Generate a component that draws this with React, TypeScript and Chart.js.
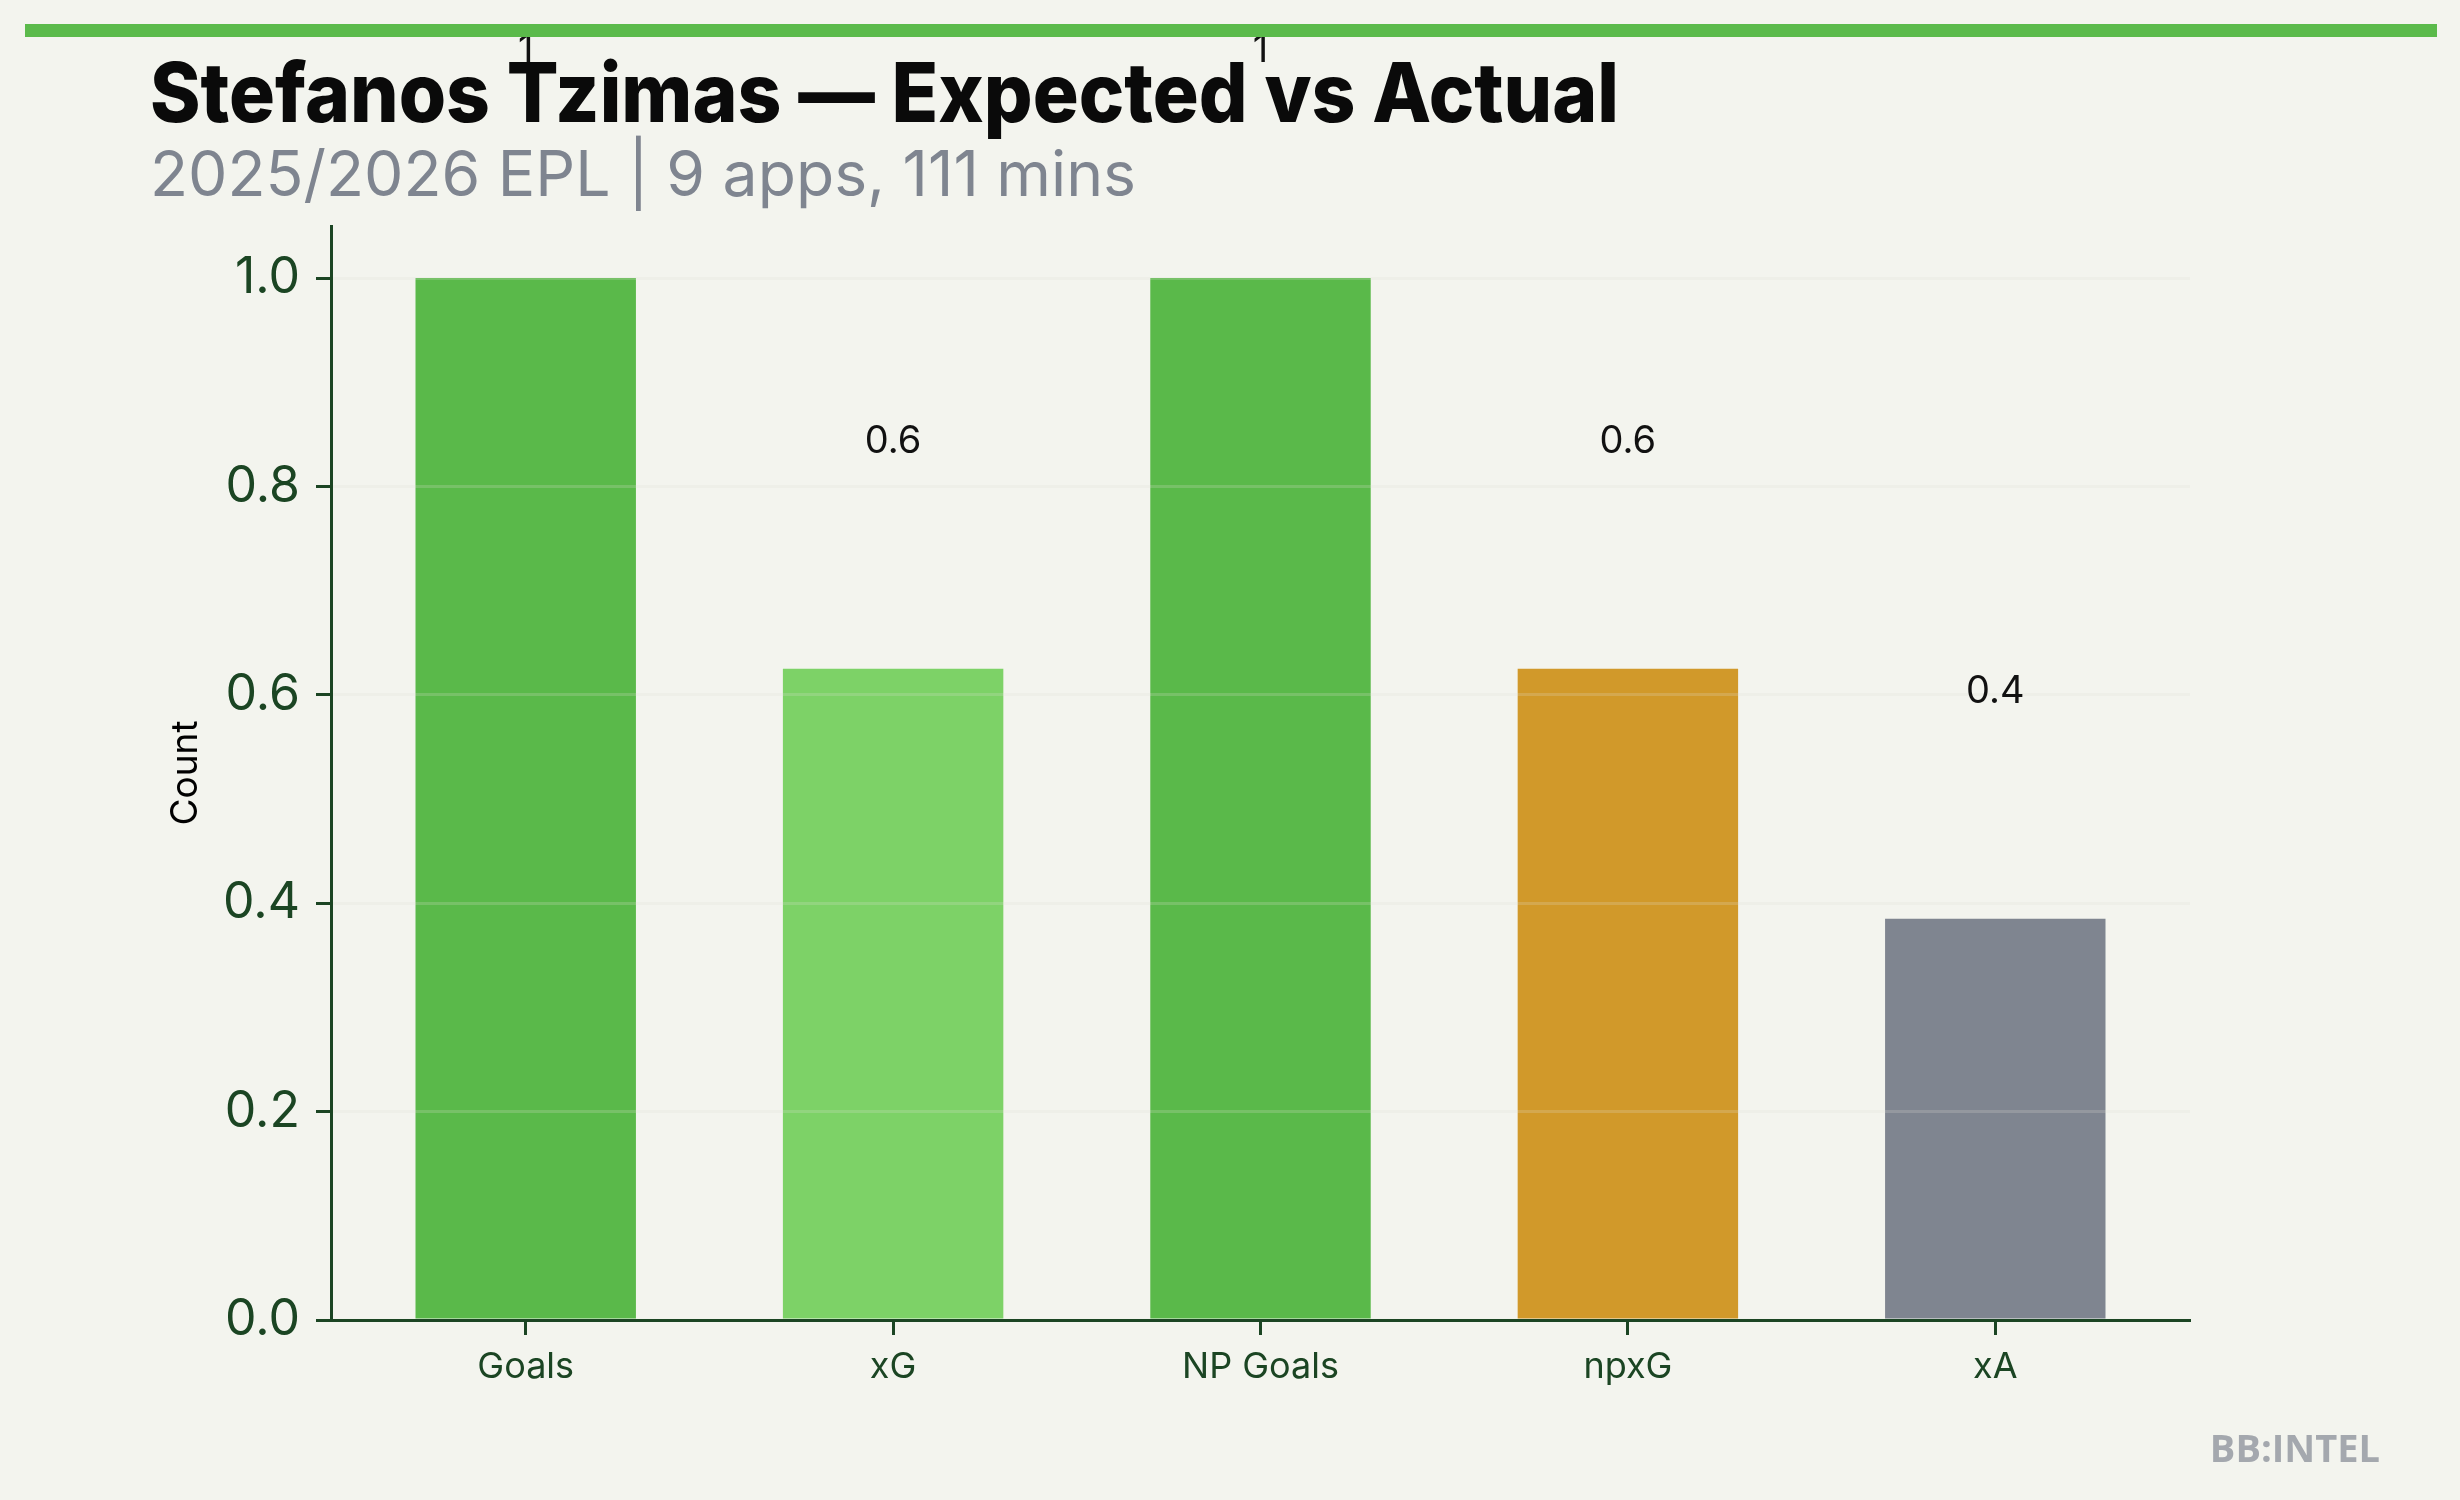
import { useEffect, useRef } from "react";
import { Chart, registerables } from "chart.js";

Chart.register(...registerables);

// ---------- content ----------
const TITLE = "Stefanos Tzimas — Expected vs Actual";
const SUBTITLE = "2025/2026 EPL | 9 apps, 111 mins";
const Y_AXIS_TITLE = "Count";
const WATERMARK = "BB:INTEL";

const categories = ["Goals", "xG", "NP Goals", "npxG", "xA"];
const values = [1, 0.625, 1, 0.625, 0.385];
const yTickValues = [0, 0.2, 0.4, 0.6, 0.8, 1.0];

// ---------- styling ----------
const BG = "#f3f4ee";
const AXIS_COLOR = "#1b4523";
const GRID_COLOR = "rgba(222,224,216,0.22)";
const ACCENT = "#5bba4b";
const barColors = ["#5ab94a", "#7dd267", "#5ab94a", "#d1992a", "#7f8590"];
const FONT = "Inter, 'Noto Sans', sans-serif";

const Y_MIN = 0;
const Y_MAX = 1.05;
const X_MIN = -0.53;
const X_MAX = 4.53;
const LABEL_OFFSET = 0.207; // data units above the bar top

function fmt(v: number): string {
  return Number.isInteger(v) ? String(v) : v.toFixed(1);
}

const decorPlugin = {
  id: "decor",
  afterDraw(chart: any) {
    const ctx = chart.ctx as CanvasRenderingContext2D;
    const xs = chart.scales.x;
    const ys = chart.scales.y;
    ctx.save();

    // value labels above bars
    ctx.font = `400 38px ${FONT}`;
    ctx.fillStyle = "#111111";
    ctx.textAlign = "center";
    ctx.textBaseline = "alphabetic";
    values.forEach((v, i) => {
      ctx.fillText(fmt(v), xs.getPixelForValue(i), ys.getPixelForValue(v + LABEL_OFFSET));
    });

    // title
    ctx.textAlign = "left";
    ctx.font = `800 82px ${FONT}`;
    ctx.fillStyle = "#0a0a0a";
    ctx.fillText(TITLE, 150, 122, 1469);

    // subtitle
    ctx.font = `400 63px ${FONT}`;
    ctx.fillStyle = "#7f8590";
    ctx.fillText(SUBTITLE, 150, 196, 986);

    // watermark
    ctx.textAlign = "right";
    ctx.font = `700 38px 'Open Sans', 'Noto Sans', sans-serif`;
    ctx.fillStyle = "#a4a8ae";
    ctx.fillText(WATERMARK, 2380, 1462);

    // top accent rule
    ctx.fillStyle = ACCENT;
    ctx.fillRect(25, 24, 2412, 13);

    ctx.restore();
  },
};

export default function App() {
  const ref = useRef<HTMLCanvasElement>(null);

  useEffect(() => {
    const canvas = ref.current;
    if (!canvas) return;
    const chart = new Chart(canvas, {
      type: "bar",
      data: {
        datasets: [
          {
            data: values.map((v, i) => ({ x: i, y: v })),
            backgroundColor: barColors,
            borderWidth: 0,
            barPercentage: 0.6,
            categoryPercentage: 1,
          },
        ],
      },
      options: {
        animation: false,
        responsive: false,
        devicePixelRatio: 1,
        layout: { padding: { top: 226, left: 152, right: 270, bottom: 0 } },
        plugins: {
          legend: { display: false },
          tooltip: { enabled: false },
          title: { display: false },
        },
        scales: {
          x: {
            type: "linear",
            min: X_MIN,
            max: X_MAX,
            bounds: "data",
            offset: false,
            afterBuildTicks: (axis: any) => {
              axis.ticks = categories.map((_, i) => ({ value: i }));
            },
            afterFit: (scale: any) => {
              scale.height = 180;
            },
            grid: {
              z: 1,
              offset: false,
              drawOnChartArea: false,
              drawTicks: true,
              tickLength: 15,
              tickWidth: 3,
              tickColor: AXIS_COLOR,
            },
            border: { display: true, color: AXIS_COLOR, width: 3, z: 2 },
            ticks: {
              padding: 11,
              color: AXIS_COLOR,
              font: { family: FONT, size: 36 },
              maxRotation: 0,
              autoSkip: false,
              callback: (value: any) => categories[value as number] ?? "",
            },
          },
          y: {
            type: "linear",
            min: Y_MIN,
            max: Y_MAX,
            bounds: "data",
            afterBuildTicks: (axis: any) => {
              axis.ticks = yTickValues.map((v) => ({ value: v }));
            },
            afterFit: (scale: any) => {
              scale.width = 179;
            },
            grid: {
              z: 1,
              color: GRID_COLOR,
              lineWidth: 3,
              drawTicks: true,
              tickLength: 15,
              tickWidth: 3,
              tickColor: AXIS_COLOR,
            },
            border: { display: true, color: AXIS_COLOR, width: 3, z: 2 },
            ticks: {
              padding: 16,
              color: AXIS_COLOR,
              font: { family: FONT, size: 50 },
              callback: (value: any) => Number(value).toFixed(1),
            },
            title: {
              display: true,
              text: Y_AXIS_TITLE,
              color: "#000000",
              font: { family: FONT, size: 37 },
              padding: { top: 12, bottom: 0 },
            },
          },
        },
      },
      plugins: [decorPlugin],
    } as any);
    return () => chart.destroy();
  }, []);

  return (
    <div
      style={{
        position: "fixed",
        left: 0,
        top: 0,
        width: 2460,
        height: 1500,
        background: BG,
      }}
    >
      <canvas
        ref={ref}
        width={2460}
        height={1500}
        style={{ display: "block", width: 2460, height: 1500 }}
      />
    </div>
  );
}
